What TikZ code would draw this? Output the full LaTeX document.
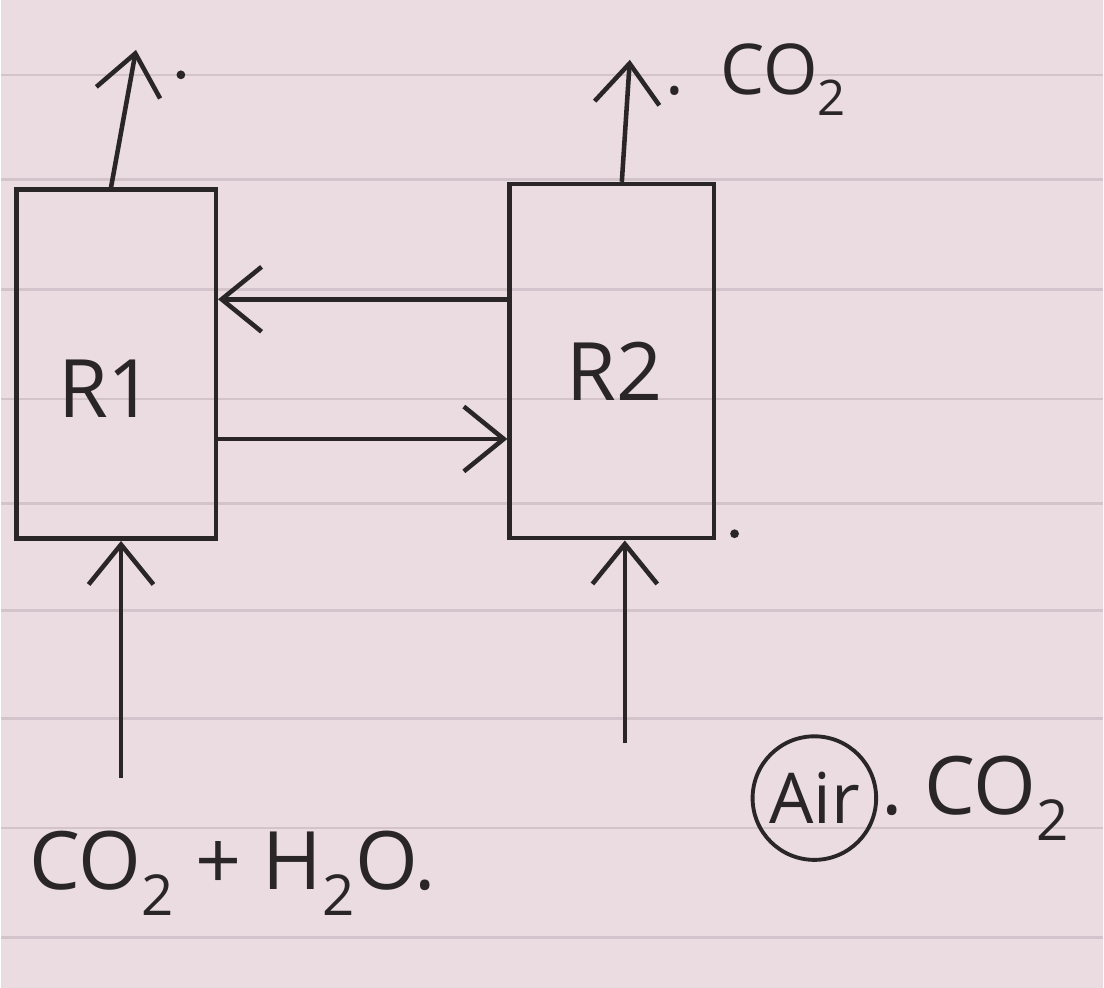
\documentclass[tikz,border=0pt]{standalone}
\usepackage{fontspec}
\setmainfont{Open Sans}
\usetikzlibrary{arrows.meta,positioning,calc}
\definecolor{paper}{HTML}{EADCE1}
\definecolor{ruling}{HTML}{D2C4CA}
\definecolor{ink}{HTML}{2A2628}

\begin{document}
\begin{tikzpicture}[x=0.02cm, y=-0.02cm,
  box/.style={draw=ink, line width=2.6pt, inner sep=0pt},
  arr/.style={-{Straight Barb[length=0.8cm, width=1.3cm, line width=2.6pt]}, line width=2.6pt, ink},
  lbl/.style={text=ink, inner sep=0pt},
  big/.style={lbl, font=\fontsize{46}{54}\selectfont},
  mid/.style={lbl, font=\fontsize{46}{54}\selectfont},
  small/.style={lbl, font=\fontsize{40}{48}\selectfont}
]
% paper
\fill[paper] (0,0) rectangle (1104,990);
\foreach \y in {75,180,290,400,505,612,720,830,940}
  \draw[ruling, line width=1.5pt] (0,\y) -- (1104,\y);
\useasboundingbox (0,0) rectangle (1104,990);

% reactors
\node[box, minimum width=4cm, minimum height=7cm] (r1) at (115,365) {};
\node[box, minimum width=4.1cm, minimum height=7.1cm] (r2) at (612,362) {};
\node[mid] (r1lbl) at (105,390) {R1};
\node[mid] (r2lbl) at (615,372) {R2};

% exchange between the two
\draw[arr] (r2.west |- 0,300) -- (r1.east |- 0,300);
\draw[arr] (r1.east |- 0,440) -- (r2.west |- 0,440);

% outlets
\coordinate (r1out) at (135,50);
\coordinate (r2out) at (630,60);
\draw[arr] ([xshift=-0.1cm]r1.north) -- (r1out);
\draw[arr] ([xshift=0.2cm]r2.north) -- (r2out);
\fill[ink] (180,75) circle (2.5pt);
\fill[ink] (735,535) circle (2.5pt);
\node[small, anchor=west] (co2top) at (665,80) {.\ \ CO\textsubscript{2}};

% feeds
\coordinate (r1in) at (120,780);
\coordinate (r2in) at (625,745);
\draw[arr] (r1in) -- (r1.south -| r1in);
\draw[arr] (r2in) -- (r2.south -| r2in);
\node[big, anchor=west] (feed1) at (28,875) {CO\textsubscript{2} + H\textsubscript{2}O.};
\node[small, draw=ink, line width=2.2pt, circle, inner sep=4pt] (air) at (815,800) {Air};
\node[big, anchor=west] (feed2) at ([xshift=2pt]air.east) {.\ CO\textsubscript{2}};
\end{tikzpicture}
\end{document}
